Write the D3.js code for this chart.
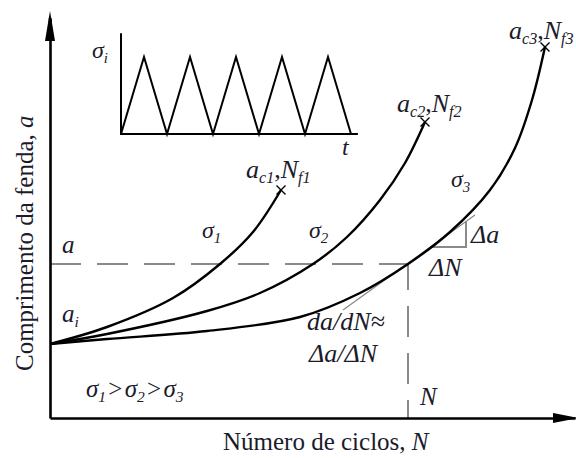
<!DOCTYPE html>
<html>
<head>
<meta charset="utf-8">
<script src="https://cdn.jsdelivr.net/npm/d3@7"></script>
<style>
  body { margin: 0; background: #fff; }
  svg { display: block; }
</style>
</head>
<body>
<svg id="chart" width="576" height="458"></svg>
<script>
// Crack growth curves a(N) for three stress amplitudes (sigma1 > sigma2 > sigma3)
const curve1N = [0, 11.4, 24.6, 34, 40.6, 46.2];
const curve1A = [18.5, 22.75, 30, 38.5, 46.5, 57];
const curve2N = [0, 11.4, 31.4, 42, 52.6, 59.4, 66, 71, 75];
const curve2A = [18.5, 21, 26.75, 31.25, 38.5, 45.25, 54.5, 63.75, 74];
const curve3N = [0, 11.4, 31.4, 50, 62, 71.6, 80, 88, 93, 96.4, 99];
const curve3A = [18.5, 19.75, 21.75, 25.25, 31.25, 38.5, 46.5, 57, 67.5, 79.5, 92.75];

// Reference crack length a and the cycle count N where curve 3 reaches it
const refA = 38.5;
const refN = 71.6;

// Tangent (da/dN) and the increment triangle on curve 3
const tangentN = [58.6, 85];
const tangentA = [27, 50.75];
const triN = [76, 83.2];
const triA = [42.75, 49.25];

// Constant-amplitude loading history in the inset
const insetT = [0, 1, 2, 3, 4, 5, 6, 7, 8, 9, 10];
const insetS = [0, 1, 0, 1, 0, 1, 0, 1, 0, 1, 0];

const svg = d3.select("#chart");
const ink = "#1b1b2b";
const font = "'Liberation Serif', 'Times New Roman', serif";

const x = d3.scaleLinear().domain([0, 105]).range([50, 575]);
const y = d3.scaleLinear().domain([0, 100]).range([418, 18]);

// Dashed guides
const guide = svg.append("g")
  .attr("stroke", "#8a8a8a").attr("stroke-width", 2)
  .attr("stroke-dasharray", "31,16").attr("fill", "none");
guide.append("line")
  .attr("x1", x(0)).attr("x2", x(refN)).attr("y1", y(refA)).attr("y2", y(refA));
guide.append("line")
  .attr("x1", x(refN)).attr("x2", x(refN)).attr("y1", y(refA)).attr("y2", y(0))
  .attr("stroke-dashoffset", 5);

// Tangent line and increment triangle
svg.append("line")
  .attr("x1", x(tangentN[0])).attr("y1", y(tangentA[0]))
  .attr("x2", x(tangentN[1])).attr("y2", y(tangentA[1]))
  .attr("stroke", "#8a8a8a").attr("stroke-width", 1.3);
svg.append("path")
  .attr("d", `M${x(triN[0])},${y(triA[0])}H${x(triN[1])}V${y(triA[1])}`)
  .attr("fill", "none").attr("stroke", "#8a8a8a").attr("stroke-width", 2);

// Axes (no ticks), with arrowheads
const axisG = svg.append("g");
axisG.append("g").attr("transform", `translate(0,${y(0)})`)
  .call(d3.axisBottom(x).tickValues([]).tickSizeOuter(0));
axisG.append("g").attr("transform", `translate(${x(0)},0)`)
  .call(d3.axisLeft(y).tickValues([]).tickSizeOuter(0));
axisG.selectAll(".domain").attr("stroke", "#000").attr("stroke-width", 2.6);
axisG.append("line").attr("x1", x(0)).attr("x2", x(0)).attr("y1", y(100)).attr("y2", 30)
  .attr("stroke", "#000").attr("stroke-width", 2.6);
axisG.append("path").attr("d", `M${x(0)},11L${x(0) - 5},41L${x(0) + 5},41Z`).attr("fill", "#000");
axisG.append("path").attr("d", `M578,${y(0)}L553,${y(0) - 5}L553,${y(0) + 5}Z`).attr("fill", "#000");

// Growth curves
const line = d3.line().x(d => x(d[0])).y(d => y(d[1])).curve(d3.curveCatmullRom.alpha(0.5));
const curves = [
  d3.zip(curve1N, curve1A),
  d3.zip(curve2N, curve2A),
  d3.zip(curve3N, curve3A)
];
svg.append("g").selectAll("path").data(curves).join("path")
  .attr("d", line).attr("fill", "none").attr("stroke", "#000").attr("stroke-width", 2.4);

// Failure markers at the end of each curve
const ends = curves.map(c => c[c.length - 1]);
svg.append("g").selectAll("path").data(ends).join("path")
  .attr("d", d => {
    const cx = x(d[0]), cy = y(d[1]), r = 4.5;
    return `M${cx - r},${cy - r}L${cx + r},${cy + r}M${cx - r},${cy + r}L${cx + r},${cy - r}`;
  })
  .attr("stroke", "#000").attr("stroke-width", 1.4);

// Inset: loading history sigma_i(t)
const xi = d3.scaleLinear().domain([0, 10]).range([121, 351]);
const yi = d3.scaleLinear().domain([0, 1]).range([134, 57]);
const inset = svg.append("g").attr("stroke", "#000").attr("fill", "none").attr("stroke-width", 2);
inset.append("path").attr("d", `M${xi(0)},${yi(1.31)}V${yi(0)}H${xi(10.3)}`);
inset.append("path").datum(d3.zip(insetT, insetS))
  .attr("d", d3.line().x(d => xi(d[0])).y(d => yi(d[1])));

// Rich text helper: parts are [text, isSubscript, isItalic]
function rich(px, py, parts, size = 25, anchor = "start") {
  const t = svg.append("text").attr("x", px).attr("y", py)
    .attr("font-family", font).attr("fill", ink).attr("text-anchor", anchor)
    .attr("font-size", size);
  let sub = false;
  parts.forEach(([s, isSub, ital]) => {
    const sp = t.append("tspan").text(s)
      .attr("font-style", ital === false ? "normal" : "italic")
      .attr("font-size", isSub ? size * 0.62 : size);
    if (isSub && !sub) sp.attr("dy", 5);
    if (!isSub && sub) sp.attr("dy", -5);
    sub = !!isSub;
  });
  return t;
}

rich(92, 58, [["σ"], ["i", true]], 24);
rich(342, 155, [["t"]], 24);

rich(246, 178, [["a"], ["c1", true], [",", false, false], ["N"], ["f1", true]], 26);
rich(397, 112, [["a"], ["c2", true], [",", false, false], ["N"], ["f2", true]], 26);
rich(509, 39, [["a"], ["c3", true], [",", false, false], ["N"], ["f3", true]], 26);

rich(202, 238, [["σ"], ["1", true]], 24);
rich(309, 238, [["σ"], ["2", true]], 24);
rich(451, 187, [["σ"], ["3", true]], 24);

rich(62, 253, [["a"]]);
rich(62, 322, [["a"], ["i", true]]);
rich(86, 397, [["σ"], ["1", true], [" > ", false, false], ["σ"], ["2", true], [" > ", false, false], ["σ"], ["3", true]], 25)
  .attr("word-spacing", -4);

rich(471, 243, [["Δa"]], 26);
rich(429, 276, [["ΔN"]], 26);
rich(307, 330, [["da/dN≈"]], 26);
rich(309, 362, [["Δa/ΔN"]], 26);
rich(420, 405, [["N"]]);

// Axis titles
rich(223, 450, [["Número de ciclos, ", false, false], ["N"]], 25);
rich(0, 0, [["Comprimento da fenda, ", false, false], ["a"]], 25)
  .attr("transform", "translate(33,371) rotate(-90)");
</script>
</body>
</html>
